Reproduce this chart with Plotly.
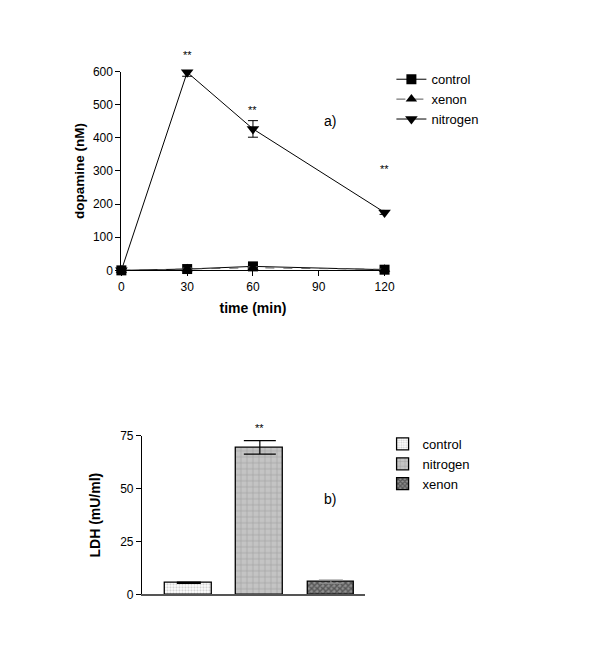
import plotly.graph_objects as go

# ---- data: panel a (dopamine) ----
time_min = [0, 30, 60, 120]
control_da = [0, 4, 12, 2]
xenon_da = [0, 5, 8, 3]
nitrogen_da = [0, 598, 427, 175]
nitrogen_err = [0, 12, 25, 6]
control_err = [0, 2, 4, 1]
xenon_err = [0, 2, 3, 1]
x_ticks_a = [0, 30, 60, 90, 120]
y_ticks_a = [0, 100, 200, 300, 400, 500, 600]

# ---- data: panel b (LDH) ----
groups = ["control", "nitrogen", "xenon"]
ldh = [5.5, 69.5, 6.0]
ldh_err = [0.3, 3.2, 0.8]
y_ticks_b = [0, 25, 50, 75]

FONT = "Liberation Sans, Arial, sans-serif"

fig = go.Figure()

fig.add_trace(go.Scatter(
    x=time_min, y=control_da, name="control", mode="lines+markers",
    line=dict(color="black", width=1),
    marker=dict(symbol="square", size=10, color="black"),
    error_y=dict(type="data", array=control_err, color="black", thickness=1, width=5),
    xaxis="x", yaxis="y", legend="legend", cliponaxis=False))
fig.add_trace(go.Scatter(
    x=time_min, y=xenon_da, name="xenon", mode="lines+markers",
    line=dict(color="#555555", width=1, dash="dash"),
    marker=dict(symbol="triangle-up", size=10, color="black"),
    error_y=dict(type="data", array=xenon_err, color="#555555", thickness=1, width=5),
    xaxis="x", yaxis="y", legend="legend", cliponaxis=False))
fig.add_trace(go.Scatter(
    x=time_min, y=nitrogen_da, name="nitrogen", mode="lines+markers",
    line=dict(color="black", width=1),
    marker=dict(symbol="triangle-down", size=11, color="black"),
    error_y=dict(type="data", array=nitrogen_err, color="black", thickness=1, width=5),
    xaxis="x", yaxis="y", legend="legend", cliponaxis=False))

patterns = [
    dict(shape=".", fgcolor="#9a9a9a", bgcolor="white", size=3, solidity=0.4),
    dict(shape="+", fgcolor="#7a7a7a", bgcolor="#c4c4c4", size=6, solidity=0.2),
    dict(shape="x", fgcolor="#1a1a1a", bgcolor="#909090", size=4, solidity=0.6),
]
err_colors = ["black", "black", "#888888"]
err_widths = [12, 16, 12]
for i, g in enumerate(groups):
    fig.add_trace(go.Bar(
        x=[i], y=[ldh[i]], name=g, width=0.66,
        marker=dict(color="white", pattern=patterns[i],
                    line=dict(color="black", width=1.3)),
        error_y=dict(type="data", array=[ldh_err[i]], color=err_colors[i],
                     thickness=1.2, width=err_widths[i]),
        xaxis="x2", yaxis="y2", legend="legend2"))

axis_common = dict(showline=True, linecolor="black", linewidth=1, ticks="outside",
                   ticklen=5, tickcolor="black", showgrid=False, zeroline=False,
                   tickfont=dict(family=FONT, size=12, color="black"))

fig.update_layout(
    width=600, height=668, margin=dict(l=0, r=0, t=0, b=0),
    paper_bgcolor="white", plot_bgcolor="white",
    font=dict(family=FONT, size=12, color="black"),
    showlegend=True,
    xaxis=dict(domain=[121/600, 390/600], range=[0, 120], tickvals=x_ticks_a,
               anchor="y",
               title=dict(text="<b>time (min)</b>", font=dict(size=14), standoff=10),
               **axis_common),
    yaxis=dict(domain=[1-269/668, 1-66/668], range=[0, 600], tickvals=y_ticks_a,
               anchor="x",
               title=dict(text="<b>dopamine (nM)</b>", font=dict(size=13.5), standoff=5),
               **axis_common),
    xaxis2=dict(domain=[142/600, 370/600], range=[-0.66, 2.48], anchor="y2",
                showline=True, linecolor="#555555", linewidth=1.5, ticks="",
                showticklabels=False, showgrid=False, zeroline=False),
    yaxis2=dict(domain=[1-600/668, 1-438/668], range=[0, 75], tickvals=y_ticks_b,
                anchor="x2",
                title=dict(text="<b>LDH (mU/ml)</b>", font=dict(size=14), standoff=16),
                **axis_common),
    legend=dict(x=397/600, y=1-58.5/668, xanchor="left", yanchor="top",
                font=dict(family=FONT, size=13), tracegroupgap=0,
                itemwidth=30, bgcolor="rgba(0,0,0,0)"),
    legend2=dict(x=388/600, y=1-431/668, xanchor="left", yanchor="top",
                 font=dict(family=FONT, size=13), tracegroupgap=0,
                 itemwidth=30, bgcolor="rgba(0,0,0,0)"),
    bargap=0,
)

ann = dict(showarrow=False, yanchor="middle", xanchor="center",
           font=dict(family=FONT, size=11, color="black"))
fig.add_annotation(x=30, y=650/600, xref="x", yref="y domain", text="**", **ann)
fig.add_annotation(x=60, y=485/600, xref="x", yref="y domain", text="**", **ann)
fig.add_annotation(x=120, y=307/600, xref="x", yref="y domain", text="**", **ann)
fig.add_annotation(x=1, y=78.7/75, xref="x2", yref="y2 domain", text="**", **ann)
fig.add_annotation(x=334/600, y=1-116/668, xref="paper", yref="paper", text="a)",
                   showarrow=False, yanchor="middle", xanchor="center",
                   font=dict(family=FONT, size=14, color="black"))
fig.add_annotation(x=334/600, y=1-503/668, xref="paper", yref="paper", text="b)",
                   showarrow=False, yanchor="middle", xanchor="center",
                   font=dict(family=FONT, size=14, color="black"))

fig.write_html(
    "out.html",
    config={"displayModeBar": False},
    post_script="document.body.style.margin='0px';"
                "document.documentElement.style.overflow='hidden';"
                "document.body.style.overflow='hidden';",
)
